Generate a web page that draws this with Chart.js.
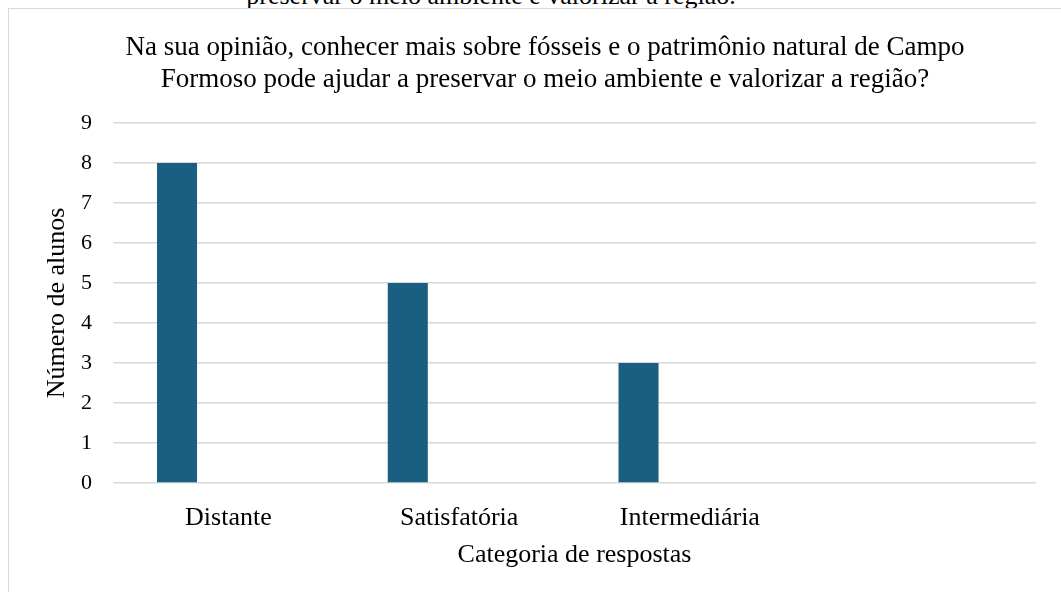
<!DOCTYPE html>
<html>
<head>
<meta charset="utf-8">
<script src="https://cdn.jsdelivr.net/npm/chart.js@4.4.1/dist/chart.umd.min.js"></script>
<style>
  html, body { margin: 0; padding: 0; background: #fff; overflow: hidden; }
  body { width: 1061px; height: 592px; position: relative; }
  #cut {
    position: absolute; left: 0; width: 982px; top: -17px;
    font: 26px "Liberation Serif", "Times New Roman", serif; line-height: 26px;
    text-align: center; color: #000; white-space: nowrap;
  }
  #frame {
    position: absolute; left: 8px; top: 8px; width: 1070px; height: 600px;
    border: 1.5px solid #d9d9d9; box-sizing: border-box;
  }
  #wrap { position: absolute; left: 10px; top: 10px; width: 1060px; height: 590px; }
</style>
</head>
<body>
<div id="cut">preservar o meio ambiente e valorizar a região.</div>
<div id="frame"></div>
<div id="wrap"><canvas id="chart1"></canvas></div>
<script>
  // data
  var categorias = ['Distante', 'Satisfatória', 'Intermediária', ''];
  var alunos = [8, 5, 3, null];
  var serieVazia = [null, null, null, null]; // second (empty) series of the original sheet
  var yTicks = [0, 1, 2, 3, 4, 5, 6, 7, 8, 9];

  var serif = '"Liberation Serif", "Times New Roman", serif';
  Chart.defaults.font.family = serif;
  Chart.defaults.color = '#000';

  var ctx = document.getElementById('chart1').getContext('2d');
  var myChart = new Chart(ctx, {
    type: 'bar',
    data: {
      labels: categorias,
      datasets: [{
        label: 'Número de alunos',
        data: alunos,
        backgroundColor: '#1a5f81',
        categoryPercentage: 0.89,
        barPercentage: 0.39
      }, {
        label: '',
        data: serieVazia,
        backgroundColor: '#1a5f81',
        categoryPercentage: 0.89,
        barPercentage: 0.39
      }]
    },
    options: {
      responsive: true,
      maintainAspectRatio: false,
      animation: false,
      // left padding 44 + y axis 59 = plot starts at 103; keeps the title centred like the original
      layout: { padding: { left: 44, right: 34, top: 0, bottom: 29 } },
      plugins: {
        legend: { display: false },
        tooltip: { enabled: false },
        title: {
          display: true,
          text: ['Na sua opinião, conhecer mais sobre fósseis e o patrimônio natural de Campo',
                 'Formoso pode ajudar a preservar o meio ambiente e valorizar a região?'],
          font: { size: 27, weight: 'normal', lineHeight: 32 / 27 },
          color: '#000',
          padding: { top: 22, bottom: 27 }
        }
      },
      scales: {
        x: {
          afterFit: function (scale) { scale.height = 88; },
          grid: { display: false, drawTicks: false },
          border: { display: false },
          ticks: { font: { size: 26 }, padding: 20, maxRotation: 0, autoSkip: false },
          title: {
            display: true,
            text: 'Categoria de respostas',
            font: { size: 26 },
            padding: { top: 5, bottom: 0 }
          }
        },
        y: {
          min: 0,
          max: 9,
          afterBuildTicks: function (scale) {
            scale.ticks = yTicks.map(function (v) { return { value: v }; });
          },
          afterFit: function (scale) { scale.width = 59; },
          grid: { color: '#d9d9d9', lineWidth: 1.5, drawTicks: false },
          border: { display: false },
          ticks: { font: { size: 22 }, padding: 21 },
          title: {
            display: true,
            text: 'Número de alunos',
            font: { size: 26 },
            padding: { top: -12, bottom: 0 }
          }
        }
      }
    }
  });
</script>
</body>
</html>
